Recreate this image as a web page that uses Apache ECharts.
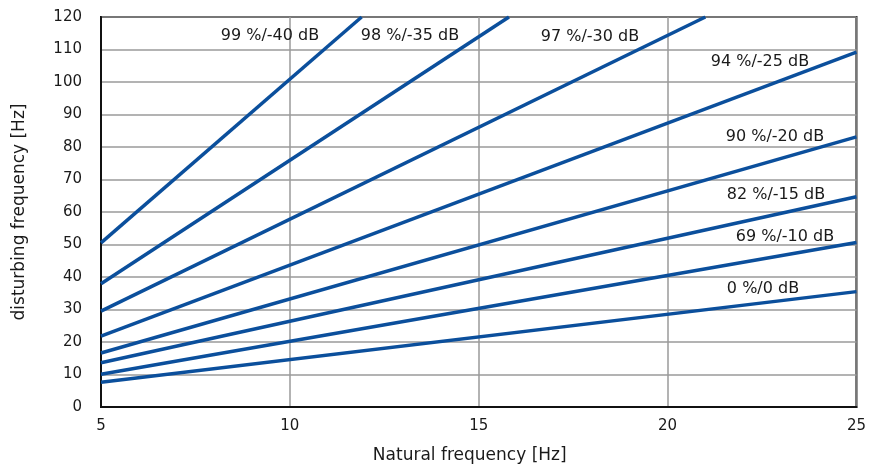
<!DOCTYPE html>
<html>
<head>
<meta charset="utf-8">
<script src="https://cdn.jsdelivr.net/npm/echarts@6/dist/echarts.min.js"></script>
<style>
  html, body { margin: 0; padding: 0; background: #fff; }
  #chart { width: 869px; height: 469px; }
</style>
</head>
<body>
<div id="chart"></div>
<script>
// isolation curves: [natural freq, disturbing freq]
var names = ["0 %/0 dB", "69 %/-10 dB", "82 %/-15 dB", "90 %/-20 dB",
             "94 %/-25 dB", "97 %/-30 dB", "98 %/-35 dB", "99 %/-40 dB"];
var startX = [5, 5, 5, 5, 5, 5, 5, 5];
var startY = [7.6, 10.1, 13.6, 16.6, 21.8, 29.5, 37.9, 50.5];
var endX = [25, 25, 25, 25, 25, 21.0, 15.8, 11.9];
var endY = [35.5, 50.6, 64.7, 83.1, 109.2, 120, 120, 120];

var FONT = "DejaVu Sans";
var BLUE = "#0b4f9c";
var TXT = "#1a1a1a";

// label centres in pixels
var labelPos = [
  [763, 289], [785, 237], [776, 195], [775, 137],
  [760, 62], [590, 37], [410, 36], [270, 36]
];

var chart = echarts.init(document.getElementById("chart"));

var series = names.map(function (n, i) {
  return {
    name: n,
    type: "line",
    showSymbol: false,
    silent: true,
    lineStyle: { color: BLUE, width: 3.5 },
    data: [[startX[i], startY[i]], [endX[i], endY[i]]]
  };
});

var graphic = names.map(function (n, i) {
  return {
    type: "text",
    x: labelPos[i][0],
    y: labelPos[i][1],
    style: {
      text: n,
      font: "16px " + FONT,
      fill: TXT,
      align: "center",
      verticalAlign: "middle"
    },
    z: 10
  };
});

var option = {
  animation: false,
  grid: { left: 101, right: 10, top: 17, bottom: 62, show: true, borderColor: "#111", borderWidth: 2, backgroundColor: "transparent" },
  xAxis: {
    type: "value",
    min: 5,
    max: 25,
    interval: 5,
    name: "Natural frequency [Hz]",
    nameLocation: "middle",
    nameGap: 40,
    nameTextStyle: { fontFamily: FONT, fontSize: 17, color: TXT, padding: [0, 18, 0, 0] },
    axisLine: { show: true, lineStyle: { color: "#111", width: 2 } },
    axisTick: { show: false },
    axisLabel: { fontFamily: FONT, fontSize: 15, color: TXT, margin: 12 },
    splitLine: { show: true, lineStyle: { color: "#9a9a9a", width: 1.5 } }
  },
  yAxis: {
    type: "value",
    min: 0,
    max: 120,
    interval: 10,
    name: "disturbing frequency [Hz]",
    nameLocation: "middle",
    nameGap: 73,
    nameTextStyle: { fontFamily: FONT, fontSize: 17, color: TXT },
    axisLine: { show: true, lineStyle: { color: "#111", width: 2 } },
    axisTick: { show: false },
    axisLabel: { fontFamily: FONT, fontSize: 15, color: TXT, margin: 19 },
    splitLine: { show: true, lineStyle: { color: "#9a9a9a", width: 1.5 } }
  },
  graphic: graphic,
  series: series
};
chart.setOption(option);
</script>
</body>
</html>
